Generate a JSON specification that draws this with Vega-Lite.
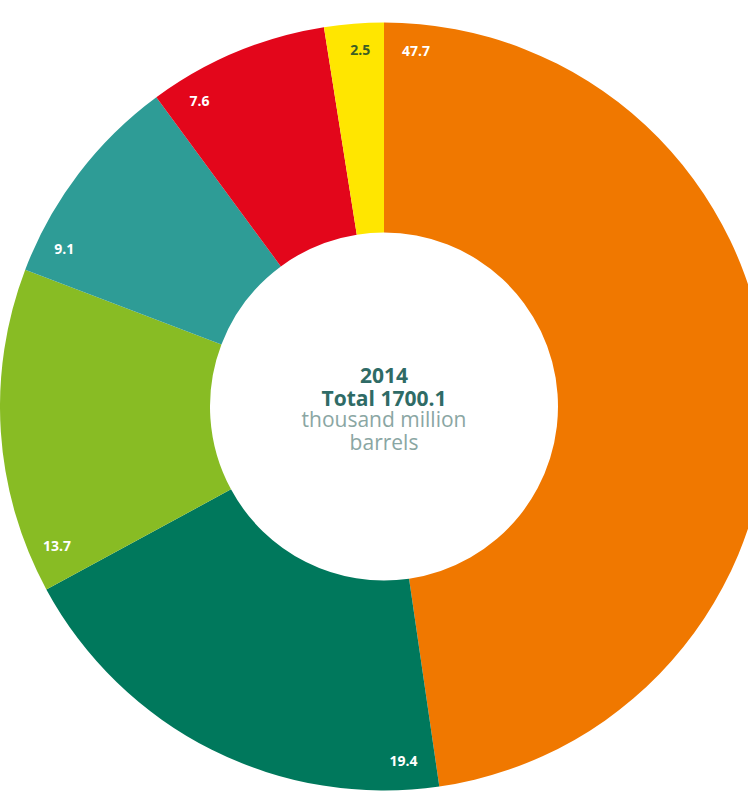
{
  "$schema": "https://vega.github.io/schema/vega-lite/v6.json",
  "autosize": "none",
  "width": 728,
  "height": 789,
  "padding": {"left": 20, "top": 12, "right": 0, "bottom": 0},
  "background": "white",
  "config": {"view": {"stroke": null}},
  "data": {
    "values": [
      {"region": "Middle East", "share": 47.7, "order": 1},
      {"region": "S. & Cent. America", "share": 19.4, "order": 2},
      {"region": "North America", "share": 13.7, "order": 3},
      {"region": "Europe & Eurasia", "share": 9.1, "order": 4},
      {"region": "Africa", "share": 7.6, "order": 5},
      {"region": "Asia Pacific", "share": 2.5, "order": 6}
    ]
  },
  "layer": [
    {
      "transform": [
        {"stack": "share", "groupby": [], "sort": [{"field": "order", "order": "ascending"}], "as": ["s0", "s1"]}
      ],
      "layer": [
        {
          "mark": {"type": "arc", "outerRadius": 384, "innerRadius": 174, "strokeWidth": 0},
          "encoding": {
            "theta": {"field": "s0", "type": "quantitative", "scale": {"domain": [0, 100]}},
            "theta2": {"field": "s1"},
            "color": {
              "field": "region",
              "type": "nominal",
              "scale": {
                "domain": ["Middle East", "S. & Cent. America", "North America", "Europe & Eurasia", "Africa", "Asia Pacific"],
                "range": ["#F07800", "#00785C", "#88BC24", "#2E9C96", "#E3061B", "#FFE600"]
              },
              "legend": null
            }
          }
        },
        {
          "mark": {"type": "text", "radius": 356, "thetaOffset": 0.09, "font": "Open Sans", "fontWeight": "bold", "fontSize": 14, "align": "center", "baseline": "middle"},
          "encoding": {
            "theta": {"field": "s0", "type": "quantitative", "stack": null},
            "text": {"field": "share", "type": "quantitative", "format": ".1f"},
            "color": {"condition": {"test": "datum.region === 'Asia Pacific'", "value": "#3d5e24"}, "value": "#ffffff"}
          }
        }
      ]
    },
    {
      "data": {"values": [{"year": 2014}]},
      "mark": {"type": "text", "text": ["2014", "Total 1700.1"], "lineHeight": 23, "fontSize": 21, "fontWeight": "bold", "font": "Open Sans", "color": "#2f6b66", "align": "center", "baseline": "middle", "dy": -30},
      "encoding": {}
    },
    {
      "data": {"values": [{"year": 2014}]},
      "mark": {"type": "text", "text": ["thousand million", "barrels"], "lineHeight": 23, "fontSize": 21, "font": "Open Sans", "color": "#8aa6a3", "align": "center", "baseline": "middle", "dy": 14},
      "encoding": {}
    }
  ]
}
